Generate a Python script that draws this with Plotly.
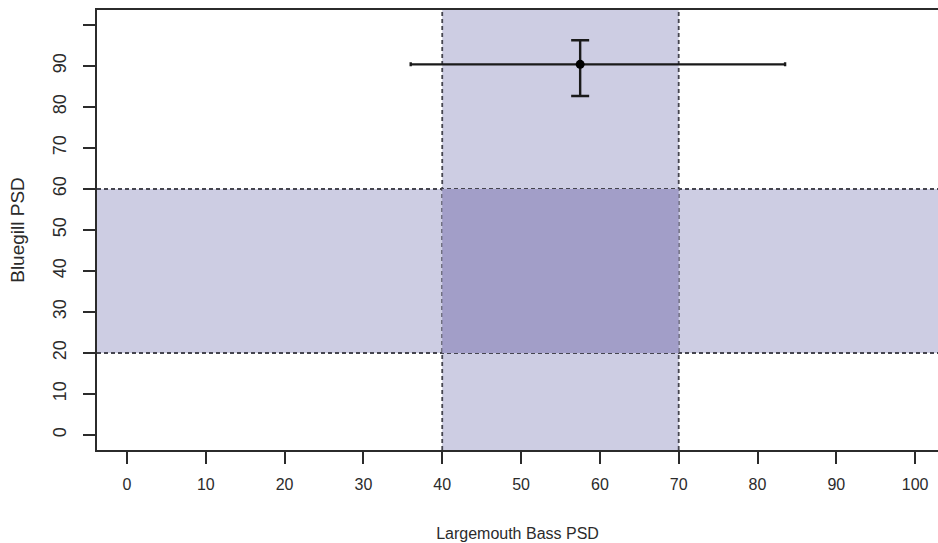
import plotly.graph_objects as go

# Data
lmb_target = [40, 70]        # Largemouth Bass PSD target range
blg_target = [20, 60]        # Bluegill PSD target range
lmb_psd = [57.5]
blg_psd = [90.4]
lmb_low = [36.0]
lmb_high = [83.5]
blg_low = [82.7]
blg_high = [96.3]

x_ticks = [0, 10, 20, 30, 40, 50, 60, 70, 80, 90, 100]
y_ticks = [0, 10, 20, 30, 40, 50, 60, 70, 80, 90, 100]
y_tick_text = ["0", "10", "20", "30", "40", "50", "60", "70", "80", "90", ""]

light = "rgb(205,205,227)"
dark = "rgb(162,158,200)"
dash_col = "#45454f"
axis_col = "#2b2b2b"
font_fam = "Liberation Sans, Arial, sans-serif"

fig = go.Figure()

fig.add_trace(go.Scatter(
    x=lmb_psd, y=blg_psd, mode="markers",
    marker=dict(color="black", size=9),
    error_x=dict(type="data", symmetric=False,
                 array=[h - v for h, v in zip(lmb_high, lmb_psd)],
                 arrayminus=[v - l for l, v in zip(lmb_low, lmb_psd)],
                 color="#1a1a1a", thickness=2.4, width=2),
    error_y=dict(type="data", symmetric=False,
                 array=[h - v for h, v in zip(blg_high, blg_psd)],
                 arrayminus=[v - l for l, v in zip(blg_low, blg_psd)],
                 color="#1a1a1a", thickness=2.4, width=9),
    showlegend=False, hoverinfo="skip",
))

shapes = [
    dict(type="rect", xref="paper", yref="y", x0=0, x1=1,
         y0=blg_target[0], y1=blg_target[1], fillcolor=light,
         line=dict(width=0), layer="below"),
    dict(type="rect", xref="x", yref="paper", x0=lmb_target[0], x1=lmb_target[1],
         y0=0, y1=1, fillcolor=light, line=dict(width=0), layer="below"),
    dict(type="rect", xref="x", yref="y", x0=lmb_target[0], x1=lmb_target[1],
         y0=blg_target[0], y1=blg_target[1], fillcolor=dark,
         line=dict(width=0), layer="below"),
]
for xv in lmb_target:
    shapes.append(dict(type="line", xref="x", yref="paper", x0=xv, x1=xv, y0=0, y1=1,
                       line=dict(color=dash_col, width=1.8, dash="4px,3px"), layer="below"))
for yv in blg_target:
    shapes.append(dict(type="line", xref="paper", yref="y", x0=0, x1=1, y0=yv, y1=yv,
                       line=dict(color=dash_col, width=1.8, dash="4px,3px"), layer="below"))

fig.update_layout(
    width=938, height=543,
    margin=dict(l=97, r=0, t=10, b=93, autoexpand=False),
    paper_bgcolor="white", plot_bgcolor="white",
    shapes=shapes,
    font=dict(family=font_fam, size=16, color=axis_col),
    xaxis=dict(
        range=[-3.8, 102.9], tickvals=x_ticks, ticktext=[str(t) for t in x_ticks],
        ticks="outside", ticklen=12, tickwidth=1.5, tickcolor=axis_col,
        showline=True, linecolor=axis_col, linewidth=1.5, mirror=True,
        showgrid=False, zeroline=False, automargin=False, ticklabelstandoff=7,
        tickfont=dict(size=16),
        title=dict(text="Largemouth Bass PSD", standoff=36,
                   font=dict(size=16, color=axis_col)),
    ),
    yaxis=dict(
        range=[-3.66, 103.66], tickvals=y_ticks, ticktext=y_tick_text,
        tickangle=-90,
        ticks="outside", ticklen=12, tickwidth=1.5, tickcolor=axis_col,
        showline=True, linecolor=axis_col, linewidth=1.5, mirror=True,
        showgrid=False, zeroline=False, automargin=False, ticklabelstandoff=10,
        tickfont=dict(size=18),
        title=dict(text="Bluegill PSD", standoff=20,
                   font=dict(size=19, color=axis_col)),
    ),
)

fig.write_html("out.html", config={"displayModeBar": False},
               post_script="document.body.style.margin='0px';document.body.style.overflow='hidden';")
